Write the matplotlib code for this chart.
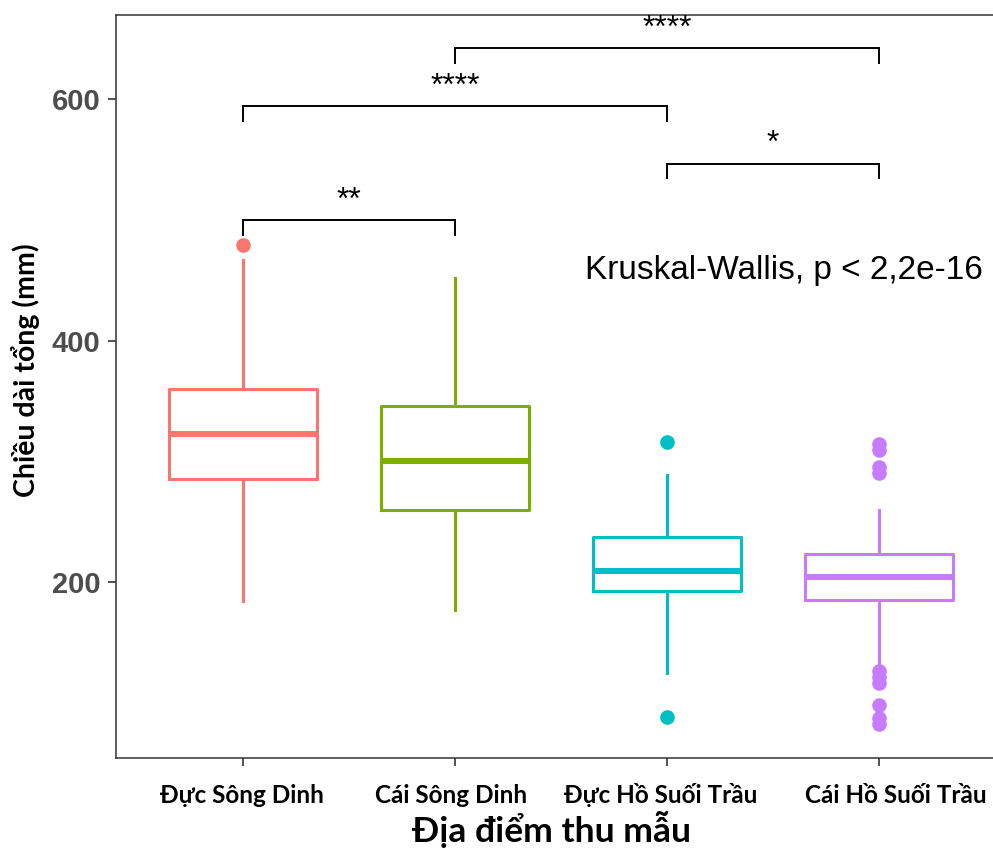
import matplotlib.pyplot as plt
from matplotlib.transforms import ScaledTranslation

# Groups and box statistics
groups = ["Đực Sông Dinh", "Cái Sông Dinh", "Đực Hồ Suối Trầu", "Cái Hồ Suối Trầu"]
colors = ["#F8766D", "#7CAE00", "#00BFC4", "#C77CFF"]
whis_low = [184, 177, 125, 131]
q1 = [285, 260, 192.5, 185]
median = [323, 300, 209.5, 204.5]
q3 = [360, 346, 237.5, 223]
whis_high = [467, 452, 289, 260]
outliers = [
    [479],
    [],
    [316, 88],
    [314, 309, 295.5, 290, 126, 121, 116, 98, 87, 82],
]

# Pairwise comparisons (group index pairs and significance labels)
pairs = [(0, 1), (0, 2), (2, 3), (1, 3)]
signif = ["**", "****", "*", "****"]
bracket_y = [499.5, 594, 546.5, 642]
kw_text = "Kruskal-Wallis, p < 2,2e-16"

fig = plt.figure(figsize=(9.93, 8.48), dpi=100)
ax = fig.add_axes([116 / 993, 90.3 / 848, 890 / 993, 742.7 / 848])

positions = list(range(1, len(groups) + 1))
for i, pos in enumerate(positions):
    st = [{
        "whislo": whis_low[i], "q1": q1[i], "med": median[i],
        "q3": q3[i], "whishi": whis_high[i], "fliers": outliers[i],
    }]
    c = colors[i]
    ax.bxp(st, positions=[pos], widths=0.7, showcaps=False,
           boxprops=dict(color=c, linewidth=2.2),
           whiskerprops=dict(color=c, linewidth=2.2),
           medianprops=dict(color=c, linewidth=4.3, solid_capstyle="butt"),
           flierprops=dict(marker="o", markerfacecolor=c, markeredgecolor=c,
                           markersize=9.5, linestyle="none"))

# significance brackets
tick_len = 12
for (a, b), lab, y in zip(pairs, signif, bracket_y):
    xa, xb = positions[a], positions[b]
    ax.plot([xa, xa, xb, xb], [y - tick_len, y, y, y - tick_len],
            color="black", linewidth=1.4, solid_joinstyle="miter")
    ax.text((xa + xb) / 2, y + 9.5, lab, ha="center", va="baseline",
            fontsize=23, family="Liberation Sans")

ax.text(4.49, 458, kw_text, ha="right", va="center",
        fontsize=24, family="Liberation Sans")

ax.set_xlim(0.4, 4.6)
ax.set_ylim(54.5, 669.6)
ax.set_xticks(positions)
ax.set_xticklabels([])
# category labels, with the small horizontal nudges seen in the figure (pixels)
label_shift = [-1, -4, -6, 17]
base = ax.get_xaxis_transform()
for pos, name, dx in zip(positions, groups, label_shift):
    ax.text(pos, 0, name, ha="center", va="baseline",
            fontsize=17.5, family="Lato", fontweight="bold",
            transform=base + ScaledTranslation(dx / 100, -45 / 100, fig.dpi_scale_trans),
            clip_on=False)
ax.set_yticks([200, 400, 600])
ax.set_yticklabels(["200", "400", "600"], fontsize=21,
                   family="Liberation Sans", fontweight="bold", color="#4D4D4D")
ax.tick_params(axis="both", length=6, width=1.2, color="#333333")
ax.tick_params(axis="y", pad=5)

fig.text(551 / 993, 6 / 848, "Địa điểm thu mẫu", ha="center", va="baseline",
         fontsize=25.5, family="Lato", fontweight="bold")
ax.set_ylabel("Chiều dài tổng (mm)", fontsize=20.5, family="Lato",
              fontweight="bold")
ax.yaxis.set_label_coords(-0.085, 0.522)

for side in ["left", "bottom", "top"]:
    ax.spines[side].set_color("#333333")
    ax.spines[side].set_linewidth(1.1)
ax.spines["right"].set_visible(False)

fig.savefig("out.png", dpi=100)
